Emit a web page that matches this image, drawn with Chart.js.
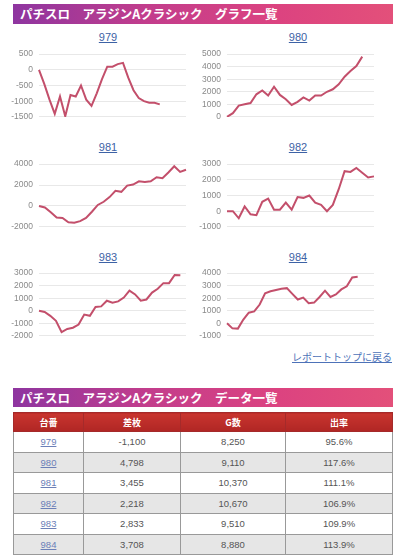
<!DOCTYPE html>
<html>
<head>
<meta charset="utf-8">
<script src="https://cdn.jsdelivr.net/npm/chart.js@4.4.0/dist/chart.umd.min.js"></script>
<style>
  html, body { margin: 0; padding: 0; background: #fff; }
  body { width: 400px; height: 557px; position: relative; overflow: hidden;
         font-family: "Liberation Sans", Arial, "Noto Sans CJK JP", sans-serif; }
  .bar { position: absolute; left: 13px; width: 380px; color: #fff; font-weight: bold;
         font-family: "Noto Sans CJK JP", sans-serif; font-size: 12.5px; box-sizing: border-box;
         padding-left: 7px; white-space: pre;
         background: linear-gradient(to right, #8e35a0 0%, #c23d8c 35%, #dc4380 70%, #e3507a 100%); }
  .ttl { position: absolute; width: 60px; margin-left: -30px; text-align: center;
         font-size: 11px; color: #3d62a5; text-decoration: underline; line-height: 12px; }
  .cv { position: absolute; }
  .back { position: absolute; right: 8px; top: 349px; font-size: 10px; color: #4d72b8;
          text-decoration: underline; font-family: "Noto Sans CJK JP", sans-serif; }
  table { position: absolute; left: 13px; top: 412px; width: 380px; border-collapse: collapse;
          font-size: 9.5px; color: #555; }
  th { background: linear-gradient(#c9352f, #b02624); color: #fff; font-weight: bold; height: 18px;
       padding: 0; font-size: 9px; border: 1px solid #a52a2a; font-family: "Noto Sans CJK JP", sans-serif; }
  td { border: 1px solid #999; height: 19.5px; padding: 0; text-align: center; }
  tr.alt td { background: #e6e6e6; }
  td a { color: #6c80b8; text-decoration: underline; }
</style>
</head>
<body>
<div class="bar" style="top:4px;height:20px;line-height:20px;">パチスロ　アラジンAクラシック　グラフ一覧</div>
<div id="charts"></div>
<div class="back">レポートトップに戻る</div>
<div class="bar" style="top:388px;height:19px;line-height:19px;">パチスロ　アラジンAクラシック　データ一覧</div>
<table id="tbl">
  <thead><tr><th style="width:69px">台番</th><th style="width:96px">差枚</th><th style="width:104px">G数</th><th>出率</th></tr></thead>
  <tbody></tbody>
</table>
<script>
// machine numbers and the coin-difference history for each one
const machines = ['979', '980', '981', '982', '983', '984'];
const diff979 = [0, -450, -950, -1400, -850, -1480, -800, -850, -500, -950, -1150, -750, -300, 100, 100, 180, 220, -250, -650, -900, -1000, -1050, -1050, -1100];
const diff980 = [0, 300, 900, 1000, 1100, 1800, 2100, 1700, 2400, 1750, 1400, 950, 1200, 1550, 1300, 1700, 1700, 2000, 2200, 2600, 3200, 3650, 4050, 4798];
const diff981 = [0, -150, -600, -1100, -1150, -1550, -1600, -1450, -1150, -550, 100, 400, 850, 1450, 1350, 1950, 2050, 2350, 2300, 2350, 2750, 2650, 3200, 3800, 3250, 3455];
const diff982 = [0, 0, -450, 300, -200, -250, 600, 800, 100, 100, 550, 100, 900, 850, 1000, 550, 400, 0, 400, 1400, 2550, 2500, 2750, 2450, 2150, 2218];
const diff983 = [0, -100, -400, -800, -1700, -1450, -1350, -1100, -300, -400, 300, 350, 800, 650, 750, 1050, 1600, 1300, 800, 900, 1450, 1750, 2200, 2200, 2850, 2833];
const diff984 = [0, -400, -420, 300, 850, 950, 1500, 2400, 2550, 2650, 2750, 2800, 2350, 1900, 2050, 1600, 1650, 2100, 2600, 2100, 2300, 2700, 2950, 3650, 3708];
const series = [diff979, diff980, diff981, diff982, diff983, diff984];

// number of x slots on each graph's axis
const slots = [29, 26, 26, 26, 27, 28];
// y axis ranges: min, max, step
const yMin = [-1500, 0, -2000, -1000, -2000, -1000];
const yMax = [500, 5000, 4000, 3000, 3000, 4000];
const yStep = [500, 1000, 2000, 1000, 1000, 1000];

// table values
const tDiff = ['-1,100', '4,798', '3,455', '2,218', '2,833', '3,708'];
const tGames = ['8,250', '9,110', '10,370', '10,670', '9,510', '8,880'];
const tRate = ['95.6%', '117.6%', '111.1%', '106.9%', '109.9%', '113.9%'];

const box = document.getElementById('charts');
const rowTop = [48, 158, 267];   // plot area top for each row
const titleY = [31, 141, 251];

machines.forEach((m, i) => {
  const col = i % 2, row = Math.floor(i / 2);
  const t = document.createElement('div');
  t.className = 'ttl';
  t.textContent = m;
  t.style.left = (col ? 298 : 108) + 'px';
  t.style.top = titleY[row] + 'px';
  box.appendChild(t);

  const wrap = document.createElement('div');
  wrap.className = 'cv';
  const left = col ? 188 : 0;
  wrap.style.left = left + 'px';
  wrap.style.top = (rowTop[row] - 5) + 'px';
  wrap.style.width = '188px';
  wrap.style.height = '85px';
  const c = document.createElement('canvas');
  wrap.appendChild(c);
  box.appendChild(wrap);

  new Chart(c, {
    type: 'line',
    data: {
      labels: Array.from({ length: slots[i] }, (_, k) => k),
      datasets: [{
        data: series[i],
        borderColor: '#c34f6b',
        borderWidth: 2,
        pointRadius: 0,
        tension: 0,
        fill: false
      }]
    },
    options: {
      responsive: true,
      maintainAspectRatio: false,
      animation: false,
      layout: { padding: { top: 0, bottom: 0, left: 0, right: 2 } },
      plugins: { legend: { display: false }, tooltip: { enabled: false } },
      scales: {
        x: { display: false },
        y: {
          min: yMin[i], max: yMax[i],
          afterFit: s => { s.width = 39; },
          border: { display: false },
          grid: { color: '#e8e8e8', drawTicks: false, lineWidth: 1 },
          ticks: { stepSize: yStep[i], padding: 6, color: '#8a8a8a',
                   callback: v => String(v),
                   font: { size: 8.5, family: 'Liberation Sans, Arial' } }
        }
      }
    }
  });
});

const tbody = document.querySelector('#tbl tbody');
machines.forEach((m, i) => {
  const tr = document.createElement('tr');
  if (i % 2) tr.className = 'alt';
  tr.innerHTML = `<td><a>${m}</a></td><td>${tDiff[i]}</td><td>${tGames[i]}</td><td>${tRate[i]}</td>`;
  tbody.appendChild(tr);
});
</script>
</body>
</html>
